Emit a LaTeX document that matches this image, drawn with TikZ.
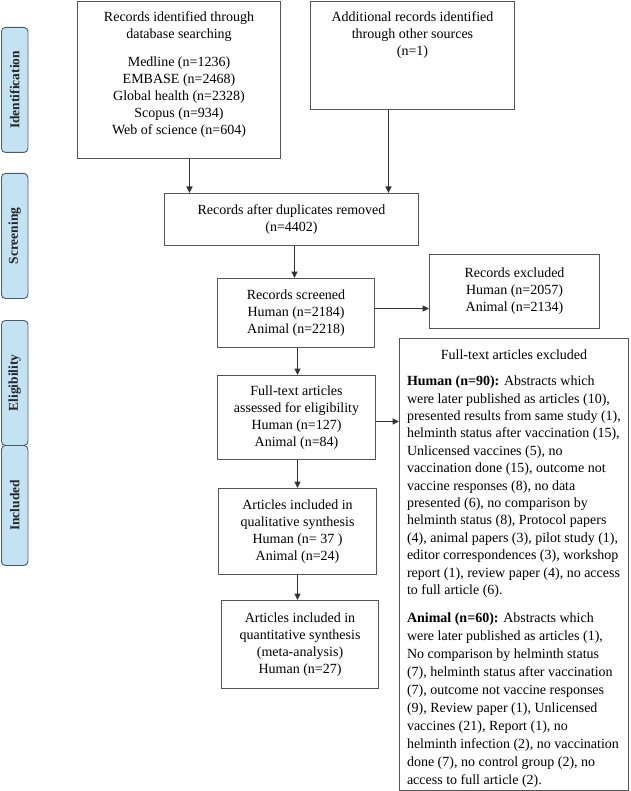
\documentclass[tikz,border=0pt]{standalone}
\usepackage{fontspec}
\setmainfont{Liberation Serif}
\usetikzlibrary{arrows.meta}
\definecolor{sidefill}{HTML}{C3E2F4}
\definecolor{sidedraw}{HTML}{4A5A66}
\definecolor{boxdraw}{HTML}{555555}
\definecolor{arrcol}{HTML}{333333}
\tikzset{
  flowbox/.style={draw=boxdraw, line width=1pt, fill=white, inner sep=0pt, align=center,
    font=\fontsize{14}{17}\selectfont},
  sidebox/.style={draw=sidedraw, line width=0.9pt, fill=sidefill, rounded corners=4pt,
    inner sep=0pt, anchor=north west},
  sidetext/.style={rotate=90, font=\fontsize{13.5}{15}\selectfont\bfseries, text=black!85},
  arr/.style={draw=arrcol, line width=1.1pt, -{Triangle[length=6.5pt,width=6pt]}}
}
\begin{document}
\begin{tikzpicture}[x=1pt,y=-1pt]
\useasboundingbox (0,0) rectangle (630,791);
% side labels
\node[sidebox, minimum width=26.5pt, minimum height=125pt] (sid) at (1,27) {};
\node[sidetext] (sidt) at (sid.center) {Identification};
\node[sidebox, minimum width=26.5pt, minimum height=125pt] (sscr) at (1,173) {};
\node[sidetext] (sscrt) at (sscr.center) {Screening};
\node[sidebox, minimum width=26.5pt, minimum height=125pt] (selg) at (1,320) {};
\node[sidetext] (selgt) at (selg.center) {Eligibility};
\node[sidebox, minimum width=26.5pt, minimum height=120pt] (sinc) at (1,445) {};
\node[sidetext] (sinct) at (sinc.center) {Included};
% boxes
\node[flowbox, anchor=north west, minimum width=203pt, minimum height=157pt] (b1) at (77,0.6)
  {\parbox[c][155pt][t]{200pt}{\centering\vspace*{10pt}Records identified through\\database searching\par\vspace{11pt}
   Medline (n=1236)\\EMBASE (n=2468)\\Global health (n=2328)\\Scopus (n=934)\\Web of science (n=604)}};
\node[flowbox, anchor=north west, minimum width=204pt, minimum height=108pt] (b2) at (310,0.6)
  {\parbox[c][106pt][t]{200pt}{\centering\vspace*{10pt}Additional records identified\\through other sources\\(n=1)}};
\node[flowbox, anchor=north west, minimum width=254pt, minimum height=52pt] (b3) at (164,193)
  {Records after duplicates removed\\(n=4402)};
\node[flowbox, anchor=north west, minimum width=157pt, minimum height=69pt] (b4) at (217,278)
  {Records screened\\Human (n=2184)\\Animal (n=2218)};
\node[flowbox, anchor=north west, minimum width=170pt, minimum height=74pt] (b5) at (429,254)
  {\raisebox{5pt}{\parbox{160pt}{\centering Records excluded\\Human (n=2057)\\Animal (n=2134)}}};
\node[flowbox, anchor=north west, minimum width=158pt, minimum height=84pt] (b6) at (217,375)
  {Full-text articles\\assessed for eligibility\\Human (n=127)\\Animal (n=84)};
\node[flowbox, anchor=north west, minimum width=229pt, minimum height=452pt] (b7) at (399,338)
  {\parbox[c][450pt][t]{214pt}{\fontsize{14}{17.4}\selectfont\vspace*{10pt}\centering Full-text articles excluded\par\vspace{9pt}\raggedright
  \textbf{Human (n=90):} Abstracts which\\
  were later published as articles (10),\\
  presented results from same study (1),\\
  helminth status after vaccination (15),\\
  Unlicensed vaccines (5), no\\
  vaccination done (15), outcome not\\
  vaccine responses (8), no data\\
  presented (6), no comparison by\\
  helminth status (8), Protocol papers\\
  (4), animal papers (3), pilot study (1),\\
  editor correspondences (3), workshop\\
  report (1), review paper (4), no access\\
  to full article (6).\par\vspace{10pt}
  {\fontsize{14}{18}\selectfont
  \textbf{Animal (n=60):} Abstracts which\\
  were later published as articles (1),\\
  No comparison by helminth status\\
  (7), helminth status after vaccination\\
  (7), outcome not vaccine responses\\
  (9), Review paper (1), Unlicensed\\
  vaccines (21), Report (1), no\\
  helminth infection (2), no vaccination\\
  done (7), no control group (2), no\\
  access to full article (2).\par}}};
\node[flowbox, anchor=north west, minimum width=158pt, minimum height=86pt] (b8) at (218,488)
  {Articles included in\\qualitative synthesis\\Human (n= 37 )\\Animal (n=24)};
\node[flowbox, anchor=north west, minimum width=157pt, minimum height=88pt] (b9) at (221,600)
  {Articles included in\\quantitative synthesis\\(meta-analysis)\\Human (n=27)};
% arrows
\draw[arr] ([xshift=10.5pt]b1.south) -- ([xshift=10.5pt]b1.south |- b3.north);
\draw[arr] ([xshift=-24pt]b2.south) -- ([xshift=-24pt]b2.south |- b3.north);
\draw[arr] ([xshift=3pt]b3.south) -- ([xshift=3pt]b3.south |- b4.north);
\draw[arr] ([yshift=4.5pt]b4.east) -- ([yshift=4.5pt]b4.east -| b5.west);
\draw[arr] ([xshift=1.5pt]b4.south) -- ([xshift=1.5pt]b4.south |- b6.north);
\draw[arr] ([yshift=-4pt]b6.east) -- ([yshift=-4pt]b6.east -| b7.west);
\draw[arr] ([xshift=1pt]b6.south) -- ([xshift=1pt]b6.south |- b8.north);
\draw[arr] ([xshift=0pt]b8.south) -- ([xshift=0pt]b8.south |- b9.north);
\end{tikzpicture}
\end{document}
